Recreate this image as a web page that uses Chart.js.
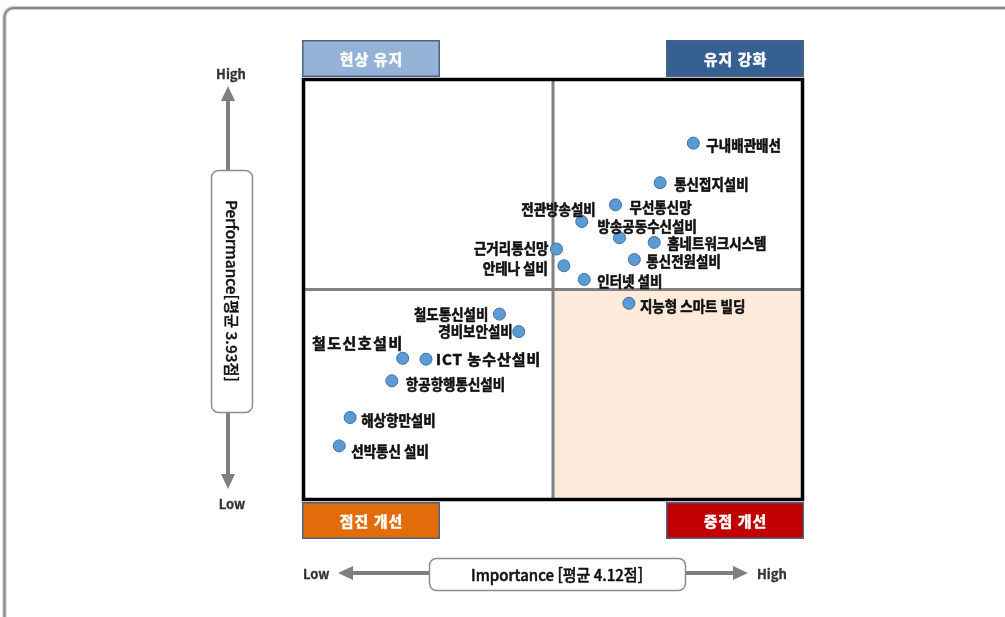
<!DOCTYPE html>
<html lang="ko">
<head>
<meta charset="utf-8">
<title>정보통신설비 IPA 매트릭스</title>
<script src="https://cdn.jsdelivr.net/npm/chart.js@4.4.1/dist/chart.umd.min.js"></script>
<style>
  html, body { margin: 0; padding: 0; background: #fff; overflow: hidden; }
  #wrap { position: relative; width: 1005px; height: 617px; }
  canvas { display: block; }
</style>
</head>
<body>
<div id="wrap"><canvas id="ipa" width="1005" height="617"></canvas></div>
<script>
// 설비별 중요도(Importance) / 만족도(Performance) 점수
const facilities = [
  '구내배관배선', '통신접지설비', '무선통신망', '전관방송설비', '방송공동수신설비',
  '홈네트워크시스템', '근거리통신망', '통신전원설비', '안테나 설비', '인터넷 설비',
  '지능형 스마트 빌딩', '철도통신설비', '경비보안설비', '철도신호설비', 'ICT 농수산설비',
  '항공항행통신설비', '해상항만설비', '선박통신 설비'
];
const importance = [
  4.403, 4.336, 4.246, 4.178, 4.254,
  4.324, 4.127, 4.284, 4.142, 4.183,
  4.273, 4.012, 4.051, 3.817, 3.864,
  3.795, 3.711, 3.689
];
const performanceScore = [
  4.281, 4.186, 4.133, 4.093, 4.054,
  4.043, 4.027, 4.002, 3.987, 3.954,
  3.897, 3.871, 3.829, 3.765, 3.763,
  3.711, 3.623, 3.555
];
const importanceMean = 4.12;
const performanceMean = 3.93;

const quadrantNames = ['현상 유지', '유지 강화', '점진 개선', '중점 개선'];
const xAxisTitle = 'Importance [평균 ' + importanceMean.toFixed(2) + '점]';
const yAxisTitle = 'Performance[평균 ' + performanceMean.toFixed(2) + '점]';
const highLow = ['High', 'Low'];

// 라벨 배치: 기준(start=점 오른쪽, end=점 왼쪽), x/y 간격, 자간(넓은 라벨)
const labelPlacement = [
  ['start', 13, 2], ['start', 14, 2], ['start', 14, 2], ['end', 14, -12], ['start', -22, -11],
  ['start', 13, 1], ['end', -8, -1], ['start', 12, 2], ['end', -16, 3], ['start', 13, 2],
  ['start', 11, 3], ['end', -11, 0], ['end', -6, 0], ['end', 1, -15, 1.5], ['start', 10, 0, 1],
  ['start', 14, 3], ['start', 11, 3], ['start', 12, 5]
];

const KFONT = '"Noto Sans CJK KR", "Noto Sans", sans-serif';

function arrowHead(ctx, tipX, tipY, dirX, dirY, len, half) {
  const bx = tipX - dirX * len, by = tipY - dirY * len;
  ctx.beginPath();
  ctx.moveTo(tipX, tipY);
  ctx.lineTo(bx - dirY * half, by + dirX * half);
  ctx.lineTo(bx + dirY * half, by - dirX * half);
  ctx.closePath();
  ctx.fill();
}

// 채움 + 얇은 외곽선으로 굵은 글씨 표현
function heavyText(ctx, text, x, y, weight) {
  ctx.fillText(text, x, y);
  if (weight > 0) {
    ctx.lineWidth = weight;
    ctx.strokeStyle = ctx.fillStyle;
    ctx.lineJoin = 'round';
    ctx.strokeText(text, x, y);
  }
}

function fittedText(ctx, text, cx, cy, width, weight) {
  const w = ctx.measureText(text).width;
  ctx.save();
  ctx.translate(cx, cy);
  ctx.scale(width / w, 1);
  ctx.textAlign = 'center';
  heavyText(ctx, text, 0, 0, weight);
  ctx.restore();
}

const ipaPlugin = {
  id: 'ipaMatrix',
  beforeDatasetsDraw(chart) {
    const { ctx, chartArea: a, scales: { x, y } } = chart;
    const mx = x.getPixelForValue(importanceMean);
    const my = y.getPixelForValue(performanceMean);
    ctx.save();
    // 중점 개선 영역 음영
    ctx.fillStyle = '#fdeadb';
    ctx.fillRect(mx, my, a.right - mx, a.bottom - my);
    // 평균선
    ctx.strokeStyle = '#808080';
    ctx.lineWidth = 3;
    ctx.beginPath();
    ctx.moveTo(mx, a.top); ctx.lineTo(mx, a.bottom);
    ctx.moveTo(a.left, my); ctx.lineTo(a.right, my);
    ctx.stroke();
    // 매트릭스 테두리
    ctx.strokeStyle = '#000';
    ctx.lineWidth = 3.5;
    ctx.strokeRect(a.left - 1.5, a.top - 1.5, a.width + 3, a.height + 3);
    ctx.restore();
  },
  afterDatasetsDraw(chart) {
    const { ctx } = chart;
    const meta = chart.getDatasetMeta(0);
    ctx.save();
    ctx.fillStyle = '#111';
    ctx.textBaseline = 'middle';
    ctx.textAlign = 'left';
    meta.data.forEach((pt, i) => {
      const [anchor, dx, dy, spacing] = labelPlacement[i];
      const sx = spacing ? 1 : 0.9;
      ctx.font = '700 15px ' + KFONT;
      ctx.letterSpacing = (spacing || 0) + 'px';
      const w = ctx.measureText(facilities[i]).width * sx;
      const left = anchor === 'start' ? pt.x + dx : pt.x + dx - w;
      ctx.save();
      ctx.translate(left, pt.y + dy);
      ctx.scale(sx, 1);
      heavyText(ctx, facilities[i], 0, 0, 0.6);
      ctx.restore();
    });
    ctx.letterSpacing = '0px';
    ctx.restore();
  },
  afterDraw(chart) {
    const { ctx, chartArea: a } = chart;
    ctx.save();

    // 바깥 테두리
    ctx.beginPath();
    ctx.roundRect(4.5, 8, 1040, 660, 9);
    ctx.strokeStyle = '#d4d4d4';
    ctx.lineWidth = 4.5;
    ctx.stroke();
    ctx.strokeStyle = '#858585';
    ctx.lineWidth = 2;
    ctx.stroke();

    // 사분면 이름 상자
    const bw = 138, bh = 37;
    const boxes = [
      [a.left - 3, a.top - 41, '#95b3d7'],
      [a.right + 3 - bw, a.top - 41, '#366092'],
      [a.left - 3, a.bottom + 4, '#e36c0a'],
      [a.right + 3 - bw, a.bottom + 4, '#c00000']
    ];
    boxes.forEach(([bx, by, fill], i) => {
      ctx.fillStyle = fill;
      ctx.fillRect(bx, by, bw, bh);
      ctx.strokeStyle = '#4a6386';
      ctx.lineWidth = 1.5;
      ctx.strokeRect(bx + 0.75, by + 0.75, bw - 1.5, bh - 1.5);
      ctx.fillStyle = '#fff';
      ctx.font = '700 15px ' + KFONT;
      ctx.letterSpacing = '1px';
      ctx.textAlign = 'center';
      ctx.textBaseline = 'middle';
      heavyText(ctx, quadrantNames[i], bx + bw / 2 + 0.5, by + bh / 2 + 1, 0.5);
      ctx.letterSpacing = '0px';
    });

    const grey = '#7f7f7f';
    ctx.strokeStyle = grey;
    ctx.fillStyle = grey;

    // 세로축 (Performance)
    const vx = 228;
    ctx.lineWidth = 4;
    ctx.beginPath();
    ctx.moveTo(vx, 100); ctx.lineTo(vx, 171);
    ctx.moveTo(vx, 411); ctx.lineTo(vx, 475);
    ctx.stroke();
    arrowHead(ctx, vx, 86, 0, -1, 15, 7);
    arrowHead(ctx, vx, 489, 0, 1, 15, 7);

    ctx.beginPath();
    ctx.roundRect(211.5, 170.5, 41, 242, 7);
    ctx.fillStyle = '#fff';
    ctx.fill();
    ctx.strokeStyle = '#8c8c8c';
    ctx.lineWidth = 1.5;
    ctx.stroke();

    ctx.fillStyle = '#111';
    ctx.font = '500 15px ' + KFONT;
    ctx.textBaseline = 'middle';
    ctx.save();
    ctx.translate(231.5, 291);
    ctx.rotate(Math.PI / 2);
    fittedText(ctx, yAxisTitle, 0, 0, 182, 0.4);
    ctx.restore();

    ctx.fillStyle = '#333';
    ctx.font = '700 13px ' + KFONT;
    ctx.textAlign = 'center';
    heavyText(ctx, highLow[0], 231, 74, 0.3);
    heavyText(ctx, highLow[1], 232, 504, 0.3);

    // 가로축 (Importance)
    const hy = 573;
    ctx.strokeStyle = grey;
    ctx.fillStyle = grey;
    ctx.lineWidth = 4;
    ctx.beginPath();
    ctx.moveTo(352, hy); ctx.lineTo(430, hy);
    ctx.moveTo(684, hy); ctx.lineTo(734, hy);
    ctx.stroke();
    arrowHead(ctx, 338, hy, -1, 0, 15, 7);
    arrowHead(ctx, 748, hy, 1, 0, 15, 7);

    ctx.beginPath();
    ctx.roundRect(429.5, 558.5, 256, 32, 7);
    ctx.fillStyle = '#fff';
    ctx.fill();
    ctx.strokeStyle = '#8c8c8c';
    ctx.lineWidth = 1.5;
    ctx.stroke();

    ctx.fillStyle = '#111';
    ctx.font = '500 16px ' + KFONT;
    fittedText(ctx, xAxisTitle, 557, 575, 172, 0.5);

    ctx.fillStyle = '#333';
    ctx.font = '700 13px ' + KFONT;
    ctx.textAlign = 'left';
    heavyText(ctx, highLow[1], 303, 574, 0.3);
    heavyText(ctx, highLow[0], 757, 574, 0.3);

    ctx.restore();
  }
};

new Chart(document.getElementById('ipa'), {
  type: 'scatter',
  data: {
    datasets: [{
      data: facilities.map((_, i) => ({ x: importance[i], y: performanceScore[i] })),
      pointRadius: 6,
      pointHoverRadius: 6,
      pointBackgroundColor: '#5b9bd5',
      pointBorderColor: '#3f6f9f',
      pointBorderWidth: 1
    }]
  },
  options: {
    responsive: false,
    devicePixelRatio: 1,
    animation: false,
    layout: { padding: { left: 305, right: 204, top: 81, bottom: 119 } },
    scales: {
      x: { type: 'linear', display: false, min: importanceMean - 0.5, max: importanceMean + 0.5 },
      y: { type: 'linear', display: false, min: performanceMean - 0.5, max: performanceMean + 0.5 }
    },
    plugins: {
      legend: { display: false },
      tooltip: { enabled: false }
    }
  },
  plugins: [ipaPlugin]
});
</script>
</body>
</html>
